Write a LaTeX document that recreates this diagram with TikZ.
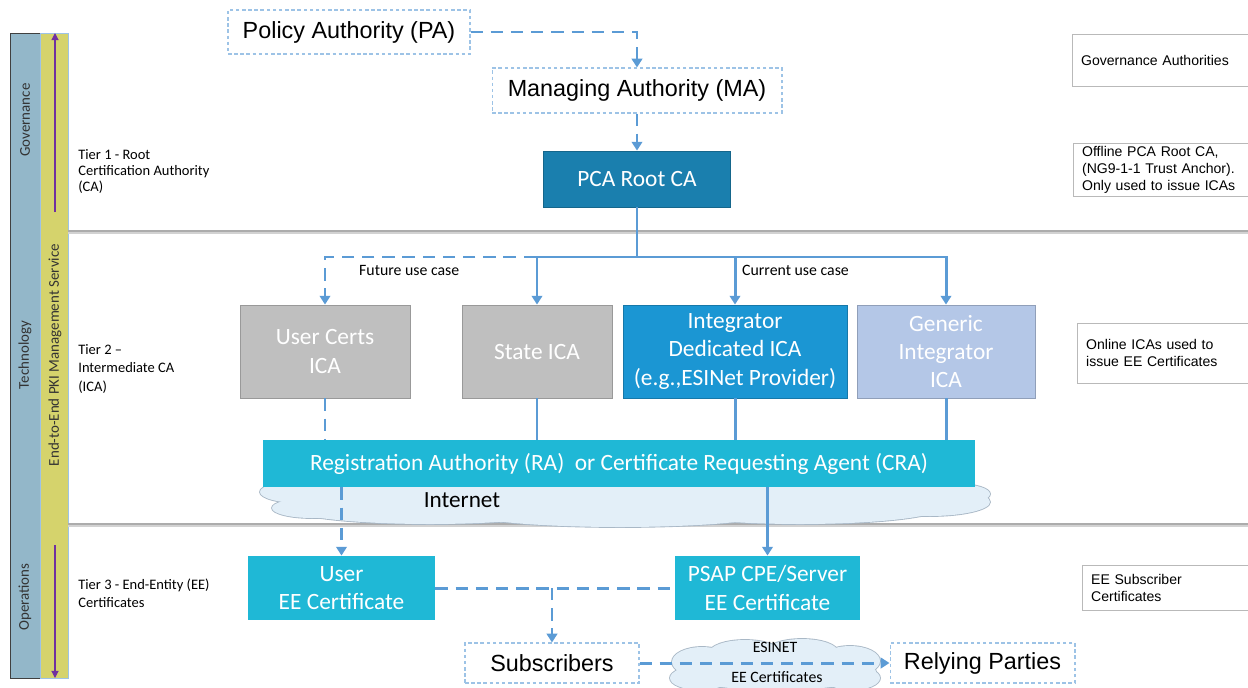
\documentclass[tikz,border=0pt]{standalone}
\usepackage{fontspec}
\setmainfont{Carlito}
\newfontfamily\arialfont{Liberation Sans}
\usetikzlibrary{arrows.meta}

\definecolor{linkblue}{HTML}{5B9BD5}
\definecolor{pcablue}{HTML}{1A7FAE}
\definecolor{intblue}{HTML}{1B96D3}
\definecolor{racyan}{HTML}{1FB8D6}
\definecolor{icagray}{HTML}{BFBFBF}
\definecolor{genblue}{HTML}{B4C7E7}
\definecolor{boxline}{HTML}{9DC3E6}
\definecolor{sideblue}{HTML}{93B7C9}
\definecolor{sideyellow}{HTML}{D5D36C}
\definecolor{mgmtpurple}{HTML}{7030A0}
\definecolor{cloudfill}{HTML}{E3EFF8}
\definecolor{cloudline}{HTML}{A9B8C6}

\tikzset{
  authbox/.style={draw=boxline, dash pattern=on 2pt off 1.5pt, line width=0.6pt,
    font=\arialfont\fontsize{13.3}{16}\selectfont, inner sep=0pt},
  cabox/.style={draw=#1!80!black, fill=#1, text=white, align=center,
    font=\fontsize{13.3}{16}\selectfont, inner sep=0pt, line width=0.5pt},
  link/.style={draw=linkblue, line width=1.7pt},
  dlink/.style={link, dash pattern=on 7pt off 4.5pt},
  headtip/.style={-{Triangle[width=6pt,length=5pt]}},
  notebox/.style={draw=gray!55, fill=white, anchor=north west, align=left,
    text width=3.4cm, inner xsep=5pt, inner ysep=0pt,
    font=\arialfont\fontsize{8}{9.6}\selectfont},
  tierlabel/.style={anchor=north west, align=left, inner sep=0pt},
  sidelabel/.style={rotate=90, text=black!80, font=\fontsize{8.5}{10}\selectfont},
  caselabel/.style={anchor=west, font=\fontsize{9}{10}\selectfont},
  smalllabel/.style={font=\fontsize{9}{10}\selectfont},
}

% cloud made of ellipses: outline pass, then fill pass
\newcommand\puffcloud[1]{%
  \foreach \cx/\cy/\rx/\ry in {#1}
    \draw[cloudline, fill=cloudfill, line width=1pt] (\cx,\cy) ellipse ({\rx} and {\ry});
  \foreach \cx/\cy/\rx/\ry in {#1}
    \fill[cloudfill] (\cx,\cy) ellipse ({\rx} and {\ry});
}

\begin{document}
\begin{tikzpicture}[x=0.02cm, y=-0.02cm]
	%%%%% START %%%%%
	\useasboundingbox (0,0) rectangle (1248,687);
	
	% side columns
	\draw[fill=sideblue, draw=black!75] (10,33) rectangle (40,678);
	\draw[fill=sideyellow, draw=boxline] (40,33) rectangle (68,678);
	\node[sidelabel] (govside) at (25,120) {Governance};
	\node[sidelabel] (techside) at (25,355) {Technology};
	\node[sidelabel] (opsside) at (25,597) {Operations};
	\node[sidelabel] (mgmtside) at (55,355) {End-to-End PKI Management Service};
	\draw[mgmtpurple, line width=0.6pt, -{Triangle[width=4pt,length=4pt]}] (55,212) -- (55,33);
	\draw[mgmtpurple, line width=0.6pt, -{Triangle[width=4pt,length=4pt]}] (55,545) -- (55,678);
	
	% tier separators
	\draw[gray!35, line width=1pt] (68,233) -- (1248,233);
	\draw[gray!65, line width=1.2pt] (68,231) -- (1248,231);
	\draw[gray!35, line width=1pt] (68,526) -- (1248,526);
	\draw[gray!65, line width=1.2pt] (68,524) -- (1248,524);
	
	% tier labels
	\node[tierlabel, font=\fontsize{8.25}{9.2}\selectfont] (tier1) at (78,149)
		{Tier 1 - Root\\Certification Authority\\(CA)};
	\node[tierlabel, font=\fontsize{8.25}{10.5}\selectfont] (tier2) at (78,344)
		{Tier 2 --\\Intermediate CA\\(ICA)};
	\node[tierlabel, font=\fontsize{8.25}{10.2}\selectfont] (tier3) at (78,579)
		{Tier 3 - End-Entity (EE)\\Certificates};
	
	% governance
	\node[authbox, minimum width=4.84cm, minimum height=0.88cm] (pa) at (349,32) {Policy Authority (PA)};
	\node[authbox, minimum width=5.8cm, minimum height=0.9cm] (ma) at (637,90.5) {Managing Authority (MA)};
	\node[cabox=pcablue, minimum width=3.74cm, minimum height=1.12cm] (pca) at (637,179) {PCA Root CA};
	\draw[dlink, headtip] (pa.east) -| (ma.north);
	\draw[dlink, headtip] (ma.south) -- (pca.north);
	
	% intermediate CAs
	\node[cabox=icagray, minimum width=3.4cm, minimum height=1.86cm] (usrica) at (325,351.5) {User Certs\\ICA};
	\node[cabox=icagray, minimum width=3.0cm, minimum height=1.86cm] (stateica) at (537,351.5) {State ICA};
	\node[cabox=intblue, minimum width=4.48cm, minimum height=1.86cm] (intica) at (735,351.5)
		{Integrator\\Dedicated ICA\\(e.g.,ESINet Provider)};
	\node[cabox=genblue, minimum width=3.56cm, minimum height=1.86cm] (genica) at (946,351.5)
		{Generic\\Integrator\\ICA};
	
	\coordinate (bus) at (637,257);
	\draw[link] (pca.south) -- (bus);
	\draw[dlink, headtip] (bus) -| (usrica.north);
	\draw[link, headtip] (bus) -| (stateica.north);
	\draw[link, headtip] (bus) -| (intica.north);
	\draw[link, headtip] (bus) -| (genica.north);
	\node[caselabel] (futurelbl) at (353,270) {Future use case};
	\node[caselabel] (currentlbl) at (736,270) {Current use case};
	
	% registration authority over the internet
	\puffcloud{300/492/40/11, 312/508/40/10, 430/508/140/16, 620/511/160/16,
		800/508/140/16, 930/502/60/14, 958/494/32/10, 625/495/350/22}
	\node[font=\fontsize{13.2}{15}\selectfont] (inetlbl) at (462,500) {Internet};
	\node[cabox=racyan, draw=none, minimum width=14.24cm, minimum height=0.94cm] (ra) at (619,463.5)
		{Registration Authority (RA)\ \ or Certificate Requesting Agent (CRA)};
	
	\draw[dlink] (usrica.south) -- (usrica.south |- ra.north);
	\draw[link] (stateica.south) -- (stateica.south |- ra.north);
	\draw[link] (intica.south) -- (intica.south |- ra.north);
	\draw[link] (genica.south) -- (genica.south |- ra.north);
	
	% end entities
	\node[cabox=racyan, draw=none, minimum width=3.74cm, minimum height=1.28cm] (useree) at (341.5,588)
		{User\\EE Certificate};
	\node[cabox=racyan, draw=none, minimum width=3.7cm, minimum height=1.28cm] (psapee) at (767.5,588)
		{PSAP CPE/Server\\EE Certificate};
	\draw[dlink, headtip] (ra.south -| useree.north) -- (useree.north);
	\draw[link, headtip] (ra.south -| psapee.north) -- (psapee.north);
	
	\node[authbox, minimum width=3.48cm, minimum height=0.8cm] (subs) at (552,663) {Subscribers};
	\node[authbox, minimum width=3.7cm, minimum height=0.8cm] (rely) at (982.5,663) {Relying Parties};
	\puffcloud{702/662/30/15, 745/653/36/13, 802/652/36/13, 850/661/30/15,
		700/678/30/12, 852/678/28/12, 776/672/100/18}
	\node[smalllabel] (esinetlbl) at (775,647) {ESINET};
	\node[smalllabel] (eecertlbl) at (777,677) {EE Certificates};
	
	\draw[dlink] (useree.east) -- (psapee.west);
	\draw[dlink, headtip] (useree.east -| subs.north) -- (subs.north);
	\draw[dlink, headtip] (subs.east) -- (rely.west);
	
	% notes on the right
	\node[notebox, minimum height=1.04cm] (govnote) at (1072,34) {Governance Authorities};
	\node[notebox, minimum height=1.06cm] (pcanote) at (1073,143)
		{Offline PCA Root CA,\\(NG9-1-1 Trust Anchor).\\Only used to issue ICAs};
	\node[notebox, minimum height=1.2cm] (icanote) at (1077,323)
		{Online ICAs used to\\issue EE Certificates};
	\node[notebox, minimum height=0.9cm] (eenote) at (1082,565)
		{EE Subscriber\\Certificates};
	
	%%%%% END %%%%%
\end{tikzpicture}
\end{document}
